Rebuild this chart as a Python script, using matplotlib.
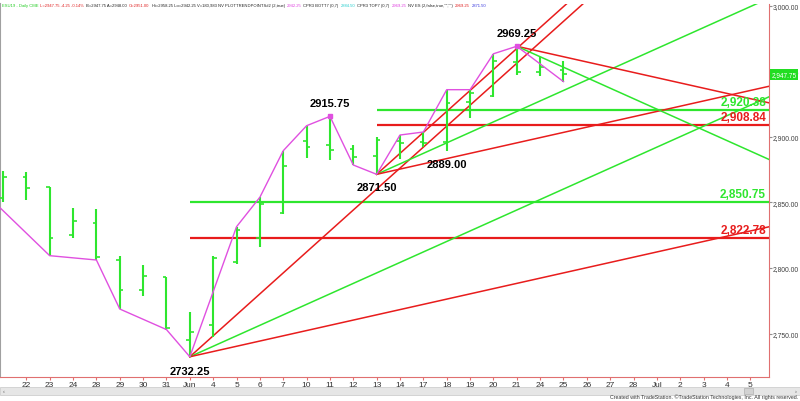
import matplotlib
matplotlib.use("Agg")
import matplotlib.pyplot as plt
import matplotlib.transforms as mtransforms
from matplotlib.patches import Rectangle

plt.rcParams['font.family'] = ['Liberation Sans', 'DejaVu Sans']

# daily bars, index 0 = May 21 2019
opens = [2853.4, 2869.2, 2861.6, 2825.4, 2834.1, 2806.1, 2783.0, 2792.9, 2744.8, 2756.5,
         2804.8, 2823.1, 2842.0, 2896.7, 2893.9, 2890.8, 2885.7, 2897.2, 2896.0, 2896.0,
         2927.0, 2931.5, 2957.5, 2949.4, 2951.0]
highs = [2874.3, 2873.0, 2862.1, 2845.8, 2844.8, 2809.2, 2802.3, 2793.4, 2766.2, 2808.9,
         2831.5, 2854.0, 2889.5, 2908.6, 2915.75, 2893.9, 2899.8, 2901.5, 2903.8, 2936.1,
         2936.1, 2963.5, 2969.25, 2960.8, 2958.25]
lows = [2850.2, 2851.9, 2809.4, 2822.9, 2806.1, 2768.7, 2778.9, 2753.0, 2732.25, 2747.0,
        2803.1, 2815.8, 2841.2, 2883.7, 2882.4, 2878.6, 2871.5, 2883.2, 2892.4, 2889.0,
        2914.3, 2930.3, 2947.3, 2946.8, 2942.25]
closes = [2869.7, 2860.8, 2822.9, 2835.6, 2808.6, 2783.0, 2793.9, 2754.2, 2751.4, 2807.4,
          2829.0, 2848.9, 2877.6, 2892.6, 2890.1, 2885.0, 2897.9, 2895.2, 2895.5, 2926.0,
          2933.6, 2958.2, 2949.8, 2953.2, 2947.75]

tick_labels = ["22", "23", "24", "28", "29", "30", "31", "Jun", "4", "5", "6", "7", "10",
               "11", "12", "13", "14", "17", "18", "19", "20", "21", "24", "25", "26", "27",
               "28", "Jul", "2", "3", "4", "5"]

# swing line (PLOTTRENDPOINTS)
swing_bars = [-1, 2, 4, 5, 7, 8, 10, 11, 12, 13, 14, 15, 16, 17, 18, 19, 20, 21, 22, 24]
swing_prices = [2861.0, 2809.4, 2806.1, 2768.7, 2753.0, 2732.25, 2831.5, 2854.0, 2889.5,
                2908.6, 2915.75, 2878.6, 2871.5, 2901.5, 2903.8, 2936.1, 2936.1, 2963.5,
                2969.25, 2942.25]

# pivots and angle lines (points per bar)
pivot_bars = [8, 16, 22]
pivot_prices = [2732.25, 2871.50, 2969.25]
pivot_angles = [[16, 8, 4], [16, 8, 4], [-4, -8]]

# retracement levels
level_start = [8, 8, 16, 16]
level_prices = [2850.75, 2822.78, 2920.38, 2908.84]

GREEN = '#2ee62e'
RED = '#e81c1c'
MAGENTA = '#e050e0'

fig = plt.figure(figsize=(8.0, 4.02), dpi=100)
ax = fig.add_axes([0, 24 / 402, 769 / 800, 373 / 402])
ax.set_xlim(-0.128, 32.8)
ax.set_ylim(2716.8, 3001.5)

# horizontal levels
for i, (s, p) in enumerate(zip(level_start, level_prices)):
    col = GREEN if i % 2 == 0 else RED
    ax.hlines(p, s, 40, colors=col, lw=1.6, zorder=2)
    ax.annotate(f"{p:,.2f}", xy=(1.0, p), xycoords=('axes fraction', 'data'),
                xytext=(-3, 2), textcoords='offset pixels', ha='right', va='bottom',
                color=col, fontsize=8.5, fontweight='bold', zorder=5)

# angle lines
for b, p, angs in zip(pivot_bars, pivot_prices, pivot_angles):
    for a in angs:
        col = GREEN if abs(a) == 8 else RED
        ax.plot([b, 40], [p, p + a * (40 - b)], color=col, lw=1.1, zorder=3)

# bars
xs = list(range(len(opens)))
ax.vlines(xs, lows, highs, colors=GREEN, lw=1.5, zorder=4)
ax.hlines(opens, [x - 0.16 for x in xs], xs, colors=GREEN, lw=1.2, zorder=4)
ax.hlines(closes, xs, [x + 0.16 for x in xs], colors=GREEN, lw=1.2, zorder=4)

# swing line
ax.plot(swing_bars, swing_prices, color=MAGENTA, lw=1.0, zorder=4)
ax.plot([14, 22], [2915.75, 2969.25], 's', color=MAGENTA, ms=2.5, zorder=5)

# pivot labels
pivot_labels = [(22, 2969.25, 8), (14, 2915.75, 8), (16, 2871.50, -8),
                (19, 2889.00, -8), (8, 2732.25, -9)]
for b, p, off in pivot_labels:
    ax.annotate(f"{p:.2f}", xy=(b, p), xytext=(0, off), textcoords='offset pixels',
                ha='center', va='bottom' if off > 0 else 'top', fontsize=8,
                fontweight='bold', color='black', zorder=6)

# axes styling
ax.spines['top'].set_visible(False)
ax.spines['left'].set_color('#a0a0a0')
ax.spines['left'].set_linewidth(1.5)
ax.spines['right'].set_color('#e07070')
ax.spines['bottom'].set_color('#e07070')
ax.yaxis.tick_right()
yt = [2750, 2800, 2850, 2900, 2950, 3000]
ax.set_yticks(yt)
ax.set_yticklabels([f"{v:,.2f}" for v in yt])
ax.tick_params(axis='y', length=2, color='#909090', labelsize=4.9, labelcolor='#404040', pad=0.6)
ax.set_xticks(range(1, 33))
ax.set_xticklabels(tick_labels)
ax.tick_params(axis='x', length=2, color='#e07070', labelsize=6, labelcolor='#333333', pad=1)

# last price marker
trans = mtransforms.blended_transform_factory(ax.transAxes, ax.transData)
ax.text(1.003, closes[-1], f"{closes[-1]:,.2f}", transform=trans, ha='left', va='center',
        fontsize=4.7, color='white', clip_on=False, zorder=10,
        bbox=dict(boxstyle='square,pad=0.25', fc='#22dd22', ec='none'))

# scroll bar and footer
fig.patches.append(Rectangle((0, 6 / 402), 1, 8 / 402, transform=fig.transFigure,
                             fc='#e6e6e6', ec='#cfcfcf', lw=0.6, zorder=-1))
fig.patches.append(Rectangle((744 / 800, 7 / 402), 9 / 800, 6 / 402, transform=fig.transFigure,
                             fc='#d2d2d2', ec='#b0b0b0', lw=0.5, zorder=-1))
fig.text(3 / 800, 10 / 402, "\u2039", fontsize=4, color='#555555', ha='left', va='center')
fig.text(797 / 800, 10 / 402, "\u203a", fontsize=4, color='#555555', ha='right', va='center')
fig.text(0.998, 0.004, "Created with TradeStation. \u00a9TradeStation Technologies, Inc. All rights reserved.",
         ha='right', va='bottom', fontsize=3.8, color='#333333')

# header line
header = [("ESU19 - Daily CME", '#22cc22'), ("L=2947.75 -4.25 -0.14%", '#e02020'),
          ("B=2947.75 A=2948.00", '#222222'), ("O=2951.00", '#e02020'),
          ("Hi=2958.25 Lo=2942.25 V=180,983 NV PLOTTRENDPOINTS#2 (2,true)", '#222222'),
          ("2942.25", '#e040e0'), ("CPR3 BOTT7 (0,7)", '#222222'), ("2884.50", '#22cccc'),
          ("CPR3 TOP7 (0,7)", '#222222'), ("2969.25", '#e040e0'),
          ('NV ES (2,false,true,"","")', '#222222'), ("2969.25", '#e02020'),
          ("2871.50", '#3333dd')]
renderer = fig.canvas.get_renderer()


def place_header(size):
    xpos = 2.0
    made = []
    for txt, col in header:
        t = fig.text(xpos / 800, 396 / 402, txt, fontsize=size, color=col, ha='left', va='center')
        made.append(t)
        xpos = t.get_window_extent(renderer).x1 + 2.0
    return made, xpos


items, end = place_header(4.0)
size = 4.0 * (483 - 2 - 2.0 * len(header)) / (end - 2 - 2.0 * len(header))
for t in items:
    t.remove()
place_header(size)

fig.savefig("out.png", dpi=100)
